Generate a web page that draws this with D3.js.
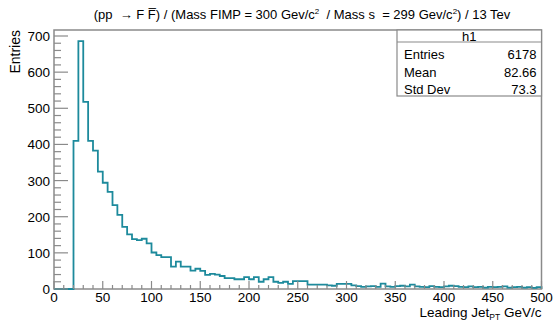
<!DOCTYPE html>
<html><head><meta charset="utf-8">
<script src="https://cdn.jsdelivr.net/npm/d3@7"></script>
<style>
html,body{margin:0;padding:0;background:#fff;}
svg{display:block;}
text{font-family:"Liberation Sans",Arial,Helvetica,sans-serif;fill:#000;white-space:pre;}
</style></head>
<body>
<script>
// ---- data ----
const binWidth = 5;
const xTicks = [0, 50, 100, 150, 200, 250, 300, 350, 400, 450, 500];
const yTicks = [0, 100, 200, 300, 400, 500, 600, 700];
const counts = [
  0, 0, 0, 0, 410, 686, 518, 410, 383, 325,          // 0-50
  294, 269, 232, 205, 172, 151, 138, 135, 139, 126,  // 50-100
  101, 94, 88, 88, 62, 76, 62, 62, 51, 56,           // 100-150
  50, 39, 42, 40, 36, 30, 30, 27, 27, 33,            // 150-200
  27, 33, 20, 27, 33, 20, 17, 20, 14, 22,            // 200-250
  22, 22, 12, 12, 12, 12, 10, 9, 14, 14,             // 250-300
  14, 10, 8, 6, 7, 8, 6, 15, 7, 6,                   // 300-350
  8, 9, 7, 12, 7, 6, 5, 8, 6, 5,                     // 350-400
  7, 9, 8, 6, 5, 7, 5, 6, 4, 6,                      // 400-450
  5, 6, 7, 4, 5, 6, 4, 5, 3, 5                       // 450-500
];
const statsName = "h1";
const statsLabels = ["Entries", "Mean", "Std Dev"];
const statsValues = ["6178", "82.66", "73.3"];

// ---- layout ----
const W = 558, H = 321;
const frame = {left: 54, right: 541.5, top: 30, bottom: 289};
const svg = d3.select("body").append("svg").attr("width", W).attr("height", H);

const x = d3.scaleLinear().domain([0, 500]).range([frame.left, frame.right]);
const y = d3.scaleLinear().domain([0, 700]).range([frame.bottom, 36]);

const axisColor = "#8a8a8a";

// frame
svg.append("rect").attr("x", frame.left).attr("y", frame.top)
  .attr("width", frame.right - frame.left).attr("height", frame.bottom - frame.top)
  .attr("fill", "none").attr("stroke", axisColor).attr("stroke-width", 1.5);

// histogram step path
const pts = [[x(0), y(0)]];
counts.forEach((c, i) => {
  pts.push([x(i * binWidth), y(c)]);
  pts.push([x((i + 1) * binWidth), y(c)]);
});
pts.push([x(500), y(0)]);
svg.append("path").attr("d", d3.line()(pts))
  .attr("fill", "none").attr("stroke", "#1d8a9c").attr("stroke-width", 1.8);

// x axis ticks (inward)
const xMinor = d3.range(0, 501, 10);
const gx = svg.append("g");
gx.selectAll("line.min").data(xMinor).join("line")
  .attr("x1", d => x(d)).attr("x2", d => x(d))
  .attr("y1", frame.bottom).attr("y2", d => frame.bottom - (d % 50 === 0 ? 8 : 4))
  .attr("stroke", axisColor).attr("stroke-width", 1.2);
gx.selectAll("text").data(xTicks).join("text")
  .attr("x", d => x(d)).attr("y", 301.5).attr("text-anchor", "middle")
  .attr("font-size", 13.5).text(d => d);

// y axis ticks (inward)
const yMinor = d3.range(0, 701, 20);
const gy = svg.append("g");
gy.selectAll("line").data(yMinor).join("line")
  .attr("x1", frame.left).attr("x2", d => frame.left + (d % 100 === 0 ? 14 : 7))
  .attr("y1", d => y(d)).attr("y2", d => y(d))
  .attr("stroke", axisColor).attr("stroke-width", 1.2);
gy.selectAll("text").data(yTicks).join("text")
  .attr("x", 50).attr("y", d => y(d) + 5).attr("text-anchor", "end")
  .attr("font-size", 13.5).text(d => d);

// y axis title
svg.append("text").attr("transform", `translate(20,${frame.top}) rotate(-90)`)
  .attr("text-anchor", "end").attr("font-size", 14).text("Entries");

// x axis title
const xt = svg.append("text").attr("x", frame.right).attr("y", 316.5)
  .attr("text-anchor", "end").attr("font-size", 13.5);
xt.append("tspan").text("Leading Jet");
xt.append("tspan").attr("font-size", 8.5).attr("dy", 3.5).text("PT");
xt.append("tspan").attr("dy", -3.5).text(" GeV/c");

// title
const tt = svg.append("text").attr("x", 302).attr("y", 19)
  .attr("text-anchor", "middle").attr("font-size", 13);
tt.append("tspan").text("(pp  \u2192 F F\u0305) / (Mass FIMP = 300 Gev/c");
tt.append("tspan").attr("font-size", 8).attr("dy", -5).text("2");
tt.append("tspan").attr("dy", 5).text("  / Mass s  = 299 Gev/c");
tt.append("tspan").attr("font-size", 8).attr("dy", -5).text("2");
tt.append("tspan").attr("dy", 5).text(") / 13 Tev");

// stats box
const sb = {x0: 397, x1: frame.right, y0: frame.top, y1: 96, sep: 42};
const g = svg.append("g");
g.append("rect").attr("x", sb.x0).attr("y", sb.y0).attr("width", sb.x1 - sb.x0)
  .attr("height", sb.y1 - sb.y0).attr("fill", "#fff").attr("stroke", axisColor).attr("stroke-width", 1.2);
g.append("line").attr("x1", sb.x0).attr("x2", sb.x1).attr("y1", sb.sep).attr("y2", sb.sep)
  .attr("stroke", axisColor).attr("stroke-width", 1.2);
g.append("text").attr("x", (sb.x0 + sb.x1) / 2).attr("y", 40.5).attr("text-anchor", "middle")
  .attr("font-size", 13).text(statsName);
statsLabels.forEach((l, i) => {
  g.append("text").attr("x", sb.x0 + 7).attr("y", 59 + i * 17.5).attr("font-size", 13).text(l);
  g.append("text").attr("x", sb.x1 - 5).attr("y", 59 + i * 17.5).attr("text-anchor", "end")
    .attr("font-size", 13).text(statsValues[i]);
});
</script>
</body></html>
